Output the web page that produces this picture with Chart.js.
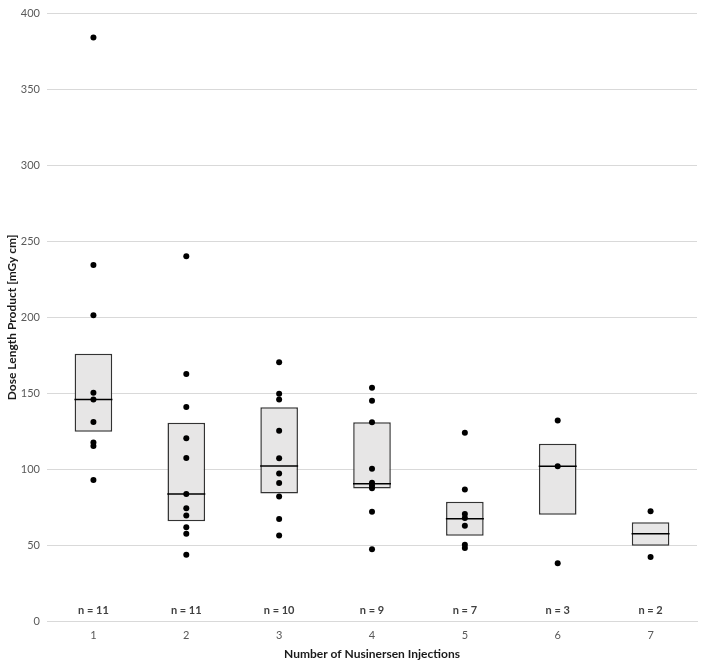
<!DOCTYPE html>
<html>
<head>
<meta charset="utf-8">
<script src="https://cdn.jsdelivr.net/npm/chart.js@4.4.1/dist/chart.umd.min.js"></script>
<style>
  html, body { margin: 0; padding: 0; background: #fff; }
  #wrap { width: 703px; height: 664px; }
</style>
</head>
<body>
<div id="wrap"><canvas id="chart"></canvas></div>
<script>
// ── Data ──
const categories = ["1", "2", "3", "4", "5", "6", "7"];
const nCounts = [11, 11, 10, 9, 7, 3, 2];
const q1 = [124.6, 65.7, 84.0, 87.3, 56.1, 70.0, 49.6];
const q3 = [176.0, 130.5, 140.8, 130.9, 78.6, 116.7, 65.0];
const medians = [145.8, 83.6, 102.1, 90.4, 67.4, 101.9, 57.4];

const pts1 = [384.3, 234.4, 201.4, 150.3, 145.8, 131.0, 117.6, 115.2, 92.8];
const pts2 = [240.2, 162.6, 141.0, 120.3, 107.4, 83.6, 74.2, 69.4, 61.7, 57.4, 43.7];
const pts3 = [170.4, 149.7, 145.8, 125.3, 107.2, 97.1, 90.8, 82.0, 67.2, 56.3];
const pts4 = [153.6, 145.0, 130.9, 100.2, 91.0, 89.2, 87.5, 72.0, 47.3];
const pts5 = [123.9, 86.6, 70.5, 67.9, 62.8, 50.2, 48.0];
const pts6 = [132.0, 101.9, 38.0];
const pts7 = [72.2, 42.1];
const allPoints = [pts1, pts2, pts3, pts4, pts5, pts6, pts7];

const TICK = "#595959", TITLE = "#1a1a1a", GRID = "#d9d9d9";
const FONT = "Lato, 'Open Sans', sans-serif";

// flatten points into {x, y} for the category axis
const scatterData = [];
allPoints.forEach((arr, i) => {
  arr.forEach((v) => scatterData.push({ x: categories[i], y: v }));
});

// "n = .." labels just above the zero line
const nLabels = {
  id: "nLabels",
  afterDatasetsDraw(chart) {
    const { ctx, scales } = chart;
    ctx.save();
    ctx.font = "bold 11px " + FONT;
    ctx.fillStyle = "#404040";
    ctx.textAlign = "center";
    ctx.textBaseline = "middle";
    const y = scales.y.getPixelForValue(0) - 11;
    categories.forEach((c, i) => {
      ctx.fillText("n = " + nCounts[i], scales.x.getPixelForValue(i), y);
    });
    ctx.restore();
  }
};

new Chart(document.getElementById("chart"), {
  type: "bar",
  data: {
    labels: categories,
    datasets: [
      {
        type: "line",
        label: "points",
        data: scatterData,
        showLine: false,
        pointRadius: 3,
        pointBackgroundColor: "#000",
        pointBorderColor: "#000",
        pointBorderWidth: 0,
        order: 0
      },
      {
        type: "line",
        label: "median",
        data: medians.map((m, i) => ({ x: categories[i], y: m })),
        showLine: false,
        pointStyle: "line",
        pointRadius: 19,
        pointBorderColor: "#000",
        pointBorderWidth: 1.5,
        order: 1
      },
      {
        label: "IQR",
        data: q1.map((lo, i) => [lo, q3[i]]),
        backgroundColor: "#e7e6e6",
        borderColor: "#333333",
        borderWidth: 1.5,
        borderSkipped: false,
        categoryPercentage: 1,
        barPercentage: 0.405,
        order: 2
      }
    ]
  },
  options: {
    responsive: true,
    maintainAspectRatio: false,
    animation: false,
    layout: { autoPadding: false, padding: { top: 1, right: 6, bottom: 3, left: 0 } },
    plugins: {
      legend: { display: false },
      tooltip: { enabled: false }
    },
    scales: {
      x: {
        grid: { display: false },
        border: { display: true, color: GRID, width: 1 },
        ticks: { color: TICK, font: { family: FONT, size: 11 }, padding: 0 },
        title: {
          display: true,
          text: "Number of Nusinersen Injections",
          color: TITLE,
          font: { family: FONT, size: 12, weight: "bold" },
          padding: { top: 0, bottom: 0 }
        },
        afterFit(scale) { scale.height = 40; }
      },
      y: {
        min: 0,
        max: 400,
        ticks: { stepSize: 50, color: TICK, font: { family: FONT, size: 11 }, padding: 7 },
        grid: { color: GRID, drawTicks: false, lineWidth: 1 },
        border: { display: false },
        title: {
          display: true,
          text: "Dose Length Product [mGy cm]",
          color: TITLE,
          font: { family: FONT, size: 12, weight: "bold" },
          padding: { top: 5, bottom: 4 }
        },
        afterFit(scale) { scale.width = 47; }
      }
    }
  },
  plugins: [nLabels]
});
</script>
</body>
</html>
